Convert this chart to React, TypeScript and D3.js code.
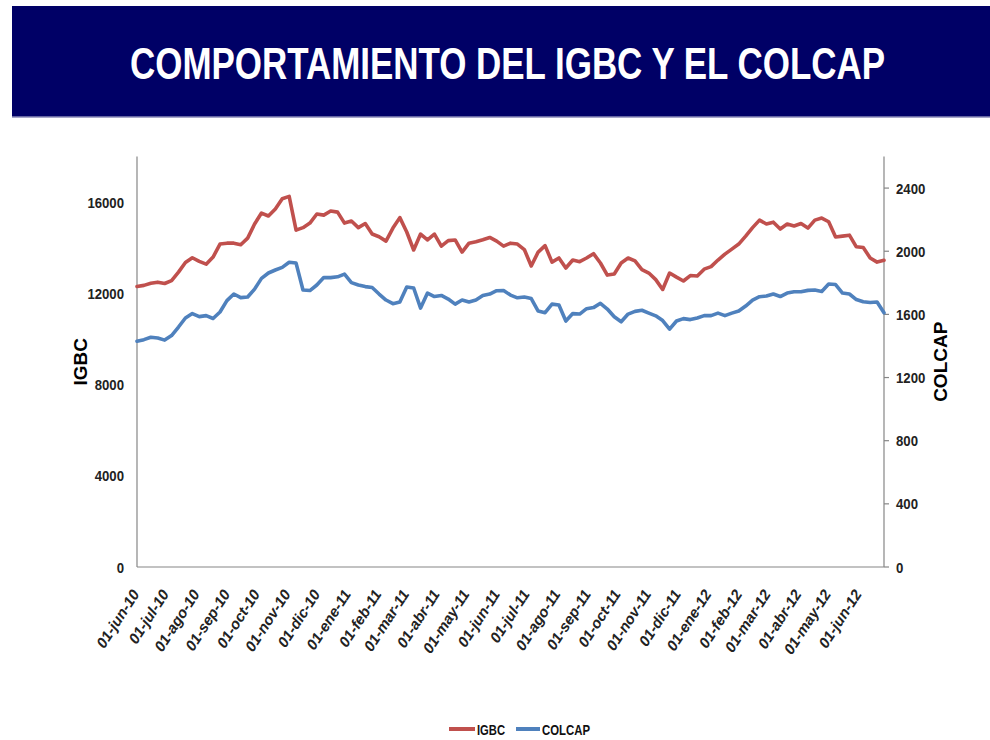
import React from "react";
import * as d3 from "d3";

const dates = [
  "2010-06-01","2010-06-08","2010-06-15","2010-06-22","2010-06-29","2010-07-06","2010-07-13","2010-07-20","2010-07-27",
  "2010-08-03","2010-08-10","2010-08-17","2010-08-24","2010-08-31","2010-09-07","2010-09-14","2010-09-21","2010-09-28",
  "2010-10-05","2010-10-12","2010-10-19","2010-10-26","2010-11-02","2010-11-09","2010-11-16","2010-11-23","2010-11-30",
  "2010-12-07","2010-12-14","2010-12-21","2010-12-28","2011-01-04","2011-01-11","2011-01-18","2011-01-25","2011-02-01",
  "2011-02-08","2011-02-15","2011-02-22","2011-03-01","2011-03-08","2011-03-15","2011-03-22","2011-03-29","2011-04-05",
  "2011-04-12","2011-04-19","2011-04-26","2011-05-03","2011-05-10","2011-05-17","2011-05-24","2011-05-31","2011-06-07",
  "2011-06-14","2011-06-21","2011-06-28","2011-07-05","2011-07-12","2011-07-19","2011-07-26","2011-08-02","2011-08-09",
  "2011-08-16","2011-08-23","2011-08-30","2011-09-06","2011-09-13","2011-09-20","2011-09-27","2011-10-04","2011-10-11",
  "2011-10-18","2011-10-25","2011-11-01","2011-11-08","2011-11-15","2011-11-22","2011-11-29","2011-12-06","2011-12-13",
  "2011-12-20","2011-12-27","2012-01-03","2012-01-10","2012-01-17","2012-01-24","2012-01-31","2012-02-07","2012-02-14",
  "2012-02-21","2012-02-28","2012-03-06","2012-03-13","2012-03-20","2012-03-27","2012-04-03","2012-04-10","2012-04-17",
  "2012-04-24","2012-05-01","2012-05-08","2012-05-15","2012-05-22","2012-05-29","2012-06-05","2012-06-12","2012-06-19",
  "2012-06-26",
];

const igbc = [
  12300,12350,12440,12490,12430,12560,12930,13350,13560,
  13400,13280,13590,14160,14200,14200,14130,14420,15040,
  15520,15390,15700,16150,16250,14770,14880,15080,15480,
  15430,15610,15560,15080,15170,14880,15060,14600,14480,
  14290,14860,15320,14690,13900,14600,14340,14600,14070,
  14310,14340,13810,14200,14260,14350,14450,14290,14070,
  14200,14160,13920,13200,13810,14090,13370,13550,13110,
  13460,13390,13550,13740,13330,12800,12850,13330,13550,
  13420,13040,12890,12600,12170,12890,12710,12540,12780,
  12760,13060,13170,13460,13720,13940,14160,14510,14880,
  15210,15040,15120,14820,15040,14950,15060,14860,15210,
  15300,15140,14470,14510,14550,14040,14010,13550,13370,
  13450,
];

const colcap = [
  1430,1440,1455,1450,1437,1466,1520,1577,1605,
  1586,1592,1574,1615,1687,1729,1706,1710,1760,
  1828,1862,1881,1898,1930,1925,1754,1751,1786,
  1834,1833,1838,1855,1801,1786,1776,1770,1729,
  1691,1668,1678,1773,1767,1640,1735,1713,1720,
  1697,1665,1691,1678,1691,1719,1729,1750,1751,
  1722,1705,1710,1700,1621,1611,1665,1659,1558,
  1605,1602,1636,1643,1670,1634,1585,1553,1602,
  1619,1626,1608,1591,1561,1507,1558,1573,1567,
  1577,1592,1592,1608,1592,1608,1621,1653,1691,
  1712,1716,1729,1713,1735,1743,1743,1752,1754,
  1745,1792,1789,1735,1729,1694,1680,1675,1678,
  1610,
];

const leftTicks = [0, 4000, 8000, 12000, 16000];
const rightTicks = [0, 400, 800, 1200, 1600, 2000, 2400];
const monthTickDates = [
  "2010-06-01","2010-07-01","2010-08-01","2010-09-01","2010-10-01","2010-11-01","2010-12-01",
  "2011-01-01","2011-02-01","2011-03-01","2011-04-01","2011-05-01","2011-06-01","2011-07-01",
  "2011-08-01","2011-09-01","2011-10-01","2011-11-01","2011-12-01","2012-01-01","2012-02-01",
  "2012-03-01","2012-04-01","2012-05-01","2012-06-01",
];
const monthTickLabels = [
  "01-jun-10","01-jul-10","01-ago-10","01-sep-10","01-oct-10","01-nov-10","01-dic-10",
  "01-ene-11","01-feb-11","01-mar-11","01-abr-11","01-may-11","01-jun-11","01-jul-11",
  "01-ago-11","01-sep-11","01-oct-11","01-nov-11","01-dic-11","01-ene-12","01-feb-12",
  "01-mar-12","01-abr-12","01-may-12","01-jun-12",
];

const TITLE = "COMPORTAMIENTO DEL IGBC Y EL COLCAP";
const RED = "#C0504D";
const BLUE = "#4F81BD";
const AXIS = "#868686";
const SANS = "'Liberation Sans', Arial, sans-serif";

export default function App() {
  const parse = d3.timeParse("%Y-%m-%d");
  const xs = dates.map((d) => parse(d) as Date);
  const left = 137, right = 884, top = 156.5, bottom = 567;
  const x = d3.scaleTime().domain([xs[0], xs[xs.length - 1]]).range([left, right]);
  const yL = d3.scaleLinear().domain([0, 18000]).range([bottom, top]);
  const yR = d3.scaleLinear().domain([0, 2600]).range([bottom, top]);

  const lineL = d3.line<number>().x((_, i) => x(xs[i])).y((v) => yL(v));
  const lineR = d3.line<number>().x((_, i) => x(xs[i])).y((v) => yR(v));

  return (
    <svg width={990} height={740} style={{ position: "absolute", left: 0, top: 0, background: "#fff" }}>
      <rect x={0} y={0} width={990} height={740} fill="#fff" />
      {/* title banner */}
      <rect x={12} y={6} width={978} height={111} fill="#000066" />
      <line x1={12} x2={990} y1={117} y2={117} stroke="#8a8ab8" strokeWidth={1.5} />
      <text
        transform="translate(130,79) scale(1,1.26)"
        fill="#fff"
        fontFamily={SANS}
        fontWeight="bold"
        fontSize={34.5}
        textLength={755}
        lengthAdjust="spacingAndGlyphs"
      >
        {TITLE}
      </text>

      {/* axes */}
      <line x1={left} x2={left} y1={top} y2={bottom} stroke={AXIS} strokeWidth={1.2} />
      <line x1={right} x2={right} y1={top} y2={bottom} stroke={AXIS} strokeWidth={1.2} />
      <line x1={left} x2={right} y1={bottom} y2={bottom} stroke={AXIS} strokeWidth={1.2} />

      {leftTicks.map((t) => (
        <text
          key={"l" + t}
          transform={`translate(124,${yL(t) + 5.5}) scale(0.85,1)`}
          textAnchor="end"
          fontFamily={SANS}
          fontWeight="bold"
          fontSize={15.5}
          fill="#222"
        >
          {t}
        </text>
      ))}
      {rightTicks.map((t) => (
        <g key={"r" + t}>
          <line x1={right} x2={right + 5} y1={yR(t)} y2={yR(t)} stroke={AXIS} strokeWidth={1.2} />
          <text
            transform={`translate(896,${yR(t) + 5.5}) scale(0.85,1)`}
            textAnchor="start"
            fontFamily={SANS}
            fontWeight="bold"
            fontSize={15.5}
            fill="#222"
          >
            {t}
          </text>
        </g>
      ))}

      <text transform={`translate(87,${(top + bottom) / 2}) rotate(-90)`} textAnchor="middle" fontFamily={SANS} fontWeight="bold" fontSize={19} fill="#000">
        IGBC
      </text>
      <text transform={`translate(947,${(top + bottom) / 2}) rotate(-90)`} textAnchor="middle" fontFamily={SANS} fontWeight="bold" fontSize={19} fill="#000">
        COLCAP
      </text>

      {monthTickDates.map((d, i) => {
        const px = x(parse(d) as Date) + 3;
        return (
          <text
            key={d}
            transform={`translate(${px},594) rotate(-57)`}
            textAnchor="end"
            fontFamily={SANS}
            fontWeight="bold"
            fontStyle="italic"
            fontSize={15}
            fill="#222"
          >
            {monthTickLabels[i]}
          </text>
        );
      })}

      {/* series */}
      <path d={lineL(igbc) || ""} fill="none" stroke={RED} strokeWidth={3.6} strokeLinejoin="round" strokeLinecap="round" />
      <path d={lineR(colcap) || ""} fill="none" stroke={BLUE} strokeWidth={3.6} strokeLinejoin="round" strokeLinecap="round" />

      {/* legend */}
      <line x1={449} x2={475} y1={729} y2={729} stroke={RED} strokeWidth={4} />
      <text x={477} y={734.5} fontFamily={SANS} fontWeight="bold" fontSize={15} fill="#111" textLength={28} lengthAdjust="spacingAndGlyphs">IGBC</text>
      <line x1={516} x2={540} y1={729} y2={729} stroke={BLUE} strokeWidth={4} />
      <text x={542} y={734.5} fontFamily={SANS} fontWeight="bold" fontSize={15} fill="#111" textLength={48} lengthAdjust="spacingAndGlyphs">COLCAP</text>
    </svg>
  );
}
